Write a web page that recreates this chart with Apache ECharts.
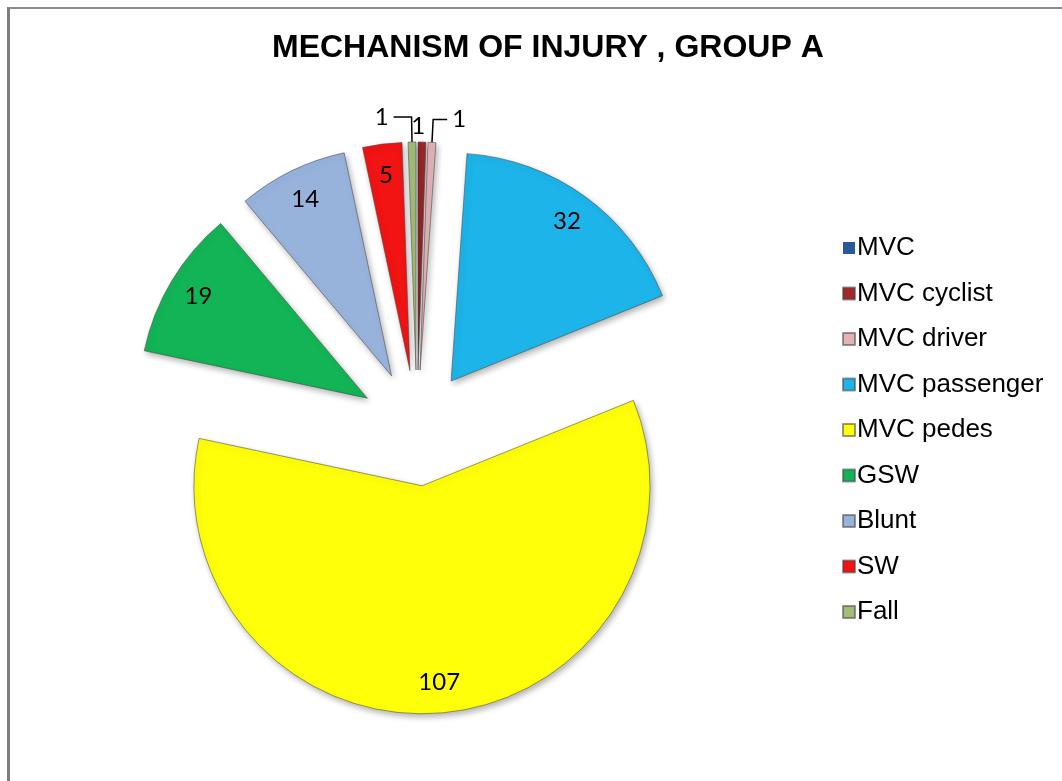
<!DOCTYPE html>
<html>
<head>
<meta charset="utf-8">
<title>Mechanism of injury, group A</title>
<script src="https://cdn.jsdelivr.net/npm/echarts/dist/echarts.min.js"></script>
<style>
  html, body { margin: 0; padding: 0; background: #fff; }
  #frame { position: absolute; left: 7px; top: 7px; width: 1062px; height: 781px;
           border-left: 3px solid #7d7d7d; border-top: 2px solid #8c8c8c; }
  #chart { position: absolute; left: 0; top: 0; width: 1062px; height: 781px; }
</style>
</head>
<body>
<div id="frame"></div>
<div id="chart"></div>
<script>
// 数据
const categories = ['MVC', 'MVC cyclist', 'MVC driver', 'MVC passenger', 'MVC pedes', 'GSW', 'Blunt', 'SW', 'Fall'];
const values = [0, 1, 1, 32, 107, 19, 14, 5, 1];

// 样式
const colors = ['#2b5a9a', '#a3282c', '#e3b3b6', '#1db4e9', '#ffff0a', '#12b456', '#97b3dc', '#f21313', '#a2bd78'];
const leaderStyle = {
  'Fall': { length: 25, length2: 18 },
  'MVC cyclist': { show: false, length: 16, length2: 0 },
  'MVC driver': { length: 23, length2: 14 }
};
const labelShift = { 'MVC cyclist': -16 };

const CENTER = [417, 428];
const R = 228;
const OFFSET = 58;
const labelFont = { fontFamily: 'Lato', fontSize: 24, color: '#000' };

// 主饼图：扇形 + 小值的外部标签
const pieData = categories.map((name, i) => {
  const v = values[i];
  const outside = v > 0 && v <= 1;
  return {
    name: name,
    value: v,
    selected: true,
    itemStyle: { color: colors[i], borderWidth: v > 0 ? 1 : 0 },
    label: { show: outside },
    labelLine: Object.assign({ show: outside }, leaderStyle[name] || {})
  };
});

// 透明环形：把大值标签放在约 0.85R 处
const ringData = categories.map((name, i) => ({
  name: name,
  value: values[i],
  selected: true,
  label: { show: values[i] > 1 }
}));

const chart = echarts.init(document.getElementById('chart'), null, { renderer: 'canvas' });
chart.setOption({
  animation: false,
  backgroundColor: 'transparent',
  title: {
    text: 'MECHANISM OF INJURY , GROUP A',
    left: 267,
    top: 27,
    textStyle: { fontFamily: 'Liberation Sans', fontWeight: 'bold', fontSize: 32, color: '#000' }
  },
  legend: {
    orient: 'vertical',
    left: 837,
    top: 230,
    data: categories,
    icon: 'rect',
    itemWidth: 12,
    itemHeight: 12,
    itemGap: 19.5,
    selectedMode: false,
    textStyle: { fontFamily: 'Liberation Sans', fontSize: 26, lineHeight: 26, color: '#000', padding: [0, 0, 0, -3] }
  },
  series: [
    {
      type: 'pie',
      center: CENTER,
      radius: [0, R],
      startAngle: 90,
      clockwise: true,
      selectedMode: 'multiple',
      selectedOffset: OFFSET,
      avoidLabelOverlap: false,
      emphasis: { disabled: true },
      itemStyle: {
        borderColor: 'rgba(70,70,70,0.55)',
        shadowBlur: 6,
        shadowOffsetX: 2,
        shadowOffsetY: 3,
        shadowColor: 'rgba(0,0,0,0.3)'
      },
      label: Object.assign({ position: 'outside', formatter: '{c}' }, labelFont),
      labelLine: { lineStyle: { color: '#000', width: 1.5 }, smooth: false },
      labelLayout: function (params) {
        const dx = labelShift[categories[params.dataIndex]];
        return dx ? { dx: dx } : {};
      },
      data: pieData
    },
    {
      type: 'pie',
      center: CENTER,
      radius: [160, R],
      startAngle: 90,
      clockwise: true,
      silent: true,
      selectedMode: 'multiple',
      selectedOffset: OFFSET,
      avoidLabelOverlap: false,
      emphasis: { disabled: true },
      itemStyle: { color: 'rgba(0,0,0,0)', borderWidth: 0 },
      label: Object.assign({ position: 'inside', formatter: '{c}' }, labelFont),
      labelLine: { show: false },
      data: ringData
    }
  ]
});
</script>
</body>
</html>
